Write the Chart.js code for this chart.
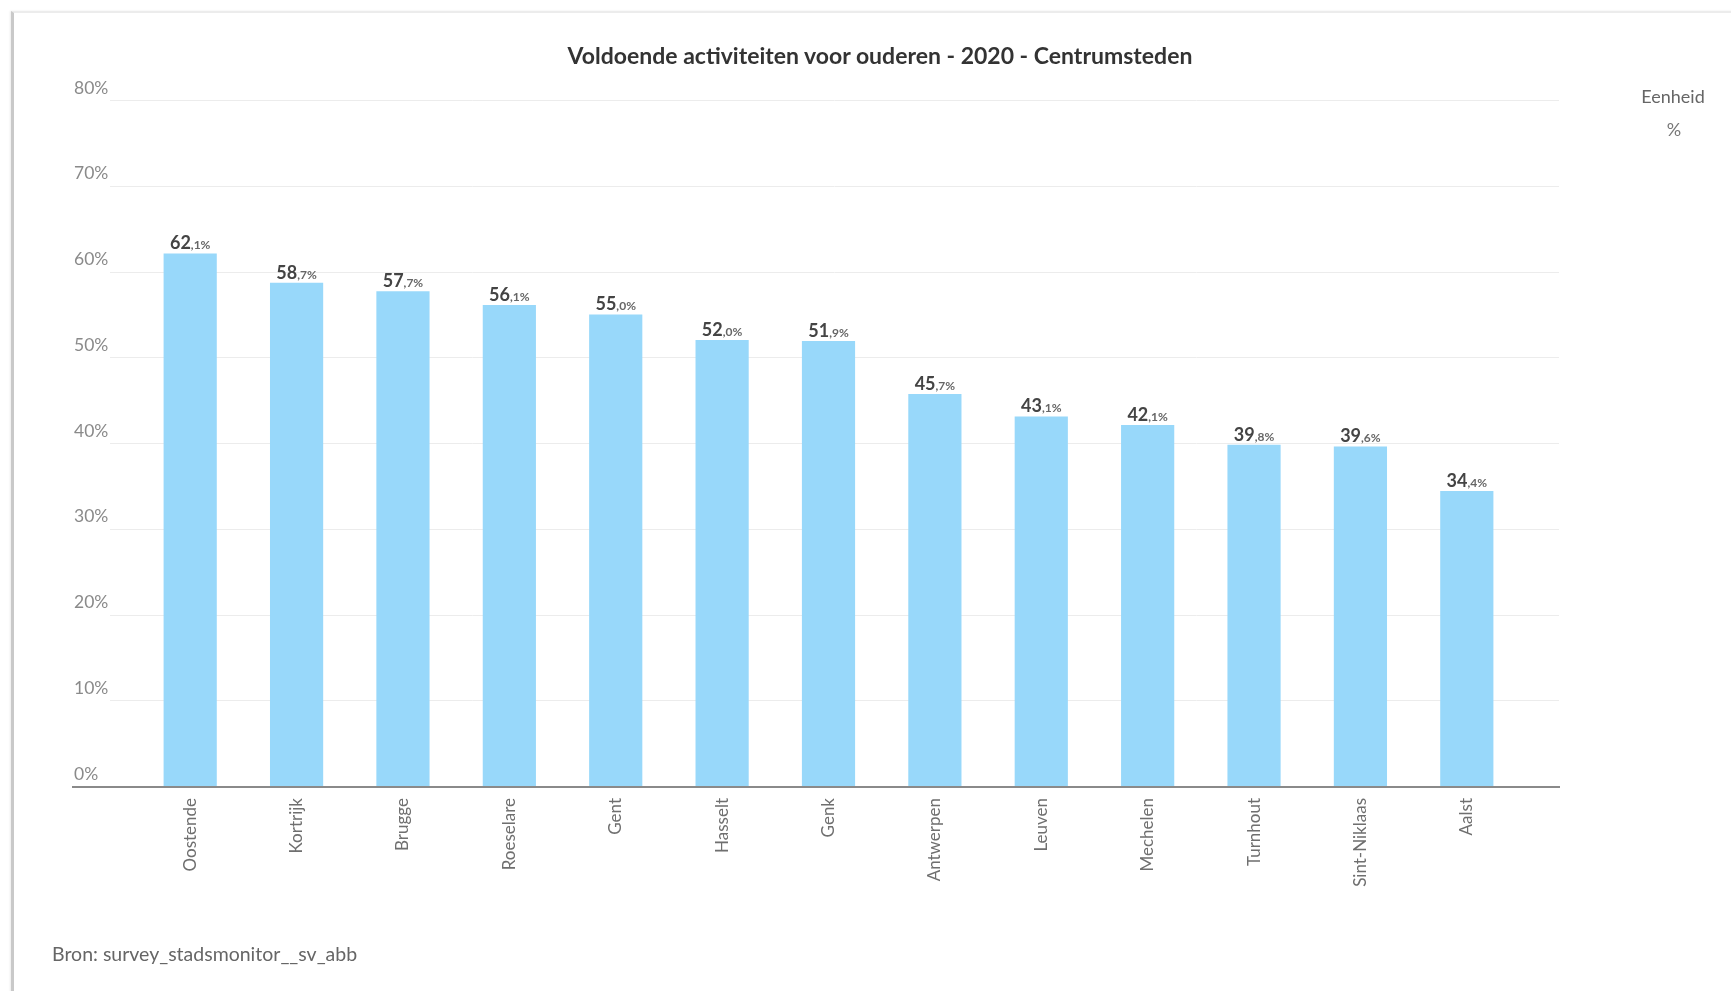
<!DOCTYPE html>
<html>
<head>
<meta charset="utf-8">
<script src="https://cdn.jsdelivr.net/npm/chart.js@4/dist/chart.umd.min.js"></script>
<style>
  html, body { margin: 0; padding: 0; background: #fff; width: 1731px; height: 991px; overflow: hidden; }
  #card { position: absolute; left: 11px; top: 11px; width: 1740px; height: 1000px;
          border-left: 3px solid #c9c9c9; border-top: 2px solid #ececec; box-sizing: border-box;
          box-shadow: -1px 0 2px rgba(0,0,0,0.08); }
  #wrap { position: absolute; left: 0; top: 0; width: 1731px; height: 991px; }
  .txt { position: absolute; font-family: Lato, "Open Sans", sans-serif; white-space: nowrap; }
  #title { left: 880px; top: 55px; transform: translate(-50%, -50%); font-weight: 700; font-size: 23px; color: #333; }
  #unit1 { left: 1673px; top: 96px; transform: translate(-50%, -50%); font-size: 18px; color: #666; }
  #unit2 { left: 1674px; top: 129px; transform: translate(-50%, -50%); font-size: 18px; color: #777; }
  #bron { left: 52px; top: 953px; transform: translate(0, -50%); font-size: 19.5px; color: #666; }
</style>
</head>
<body>
<div id="card"></div>
<div id="wrap"><canvas id="c" width="1731" height="991"></canvas></div>
<div class="txt" id="title">Voldoende activiteiten voor ouderen - 2020 - Centrumsteden</div>
<div class="txt" id="unit1">Eenheid</div>
<div class="txt" id="unit2">%</div>
<div class="txt" id="bron">Bron: survey_stadsmonitor__sv_abb</div>
<script>
const categories = ["Oostende", "Kortrijk", "Brugge", "Roeselare", "Gent", "Hasselt", "Genk",
  "Antwerpen", "Leuven", "Mechelen", "Turnhout", "Sint-Niklaas", "Aalst"];
const values = [62.1, 58.7, 57.7, 56.1, 55.0, 52.0, 51.9, 45.7, 43.1, 42.1, 39.8, 39.6, 34.4];
const yTicks = [0, 10, 20, 30, 40, 50, 60, 70, 80];

const FONT = 'Lato, "Open Sans", sans-serif';

const gridPlugin = {
  id: 'extGrid',
  beforeDatasetsDraw(chart) {
    const ctx = chart.ctx, y = chart.scales.y;
    ctx.save();
    yTicks.forEach(v => {
      if (v === 0) return;
      const py = Math.round(y.getPixelForValue(v)) + 0.5;
      ctx.strokeStyle = '#ececec';
      ctx.lineWidth = 1;
      ctx.beginPath(); ctx.moveTo(110, py); ctx.lineTo(1559, py); ctx.stroke();
    });
    ctx.restore();
  },
  afterDatasetsDraw(chart) {
    const ctx = chart.ctx, y = chart.scales.y;
    const py = y.getPixelForValue(0);
    ctx.save();
    ctx.strokeStyle = '#8a8a8a';
    ctx.lineWidth = 2;
    ctx.beginPath(); ctx.moveTo(72, py + 1); ctx.lineTo(1560, py + 1); ctx.stroke();
    // value labels
    const meta = chart.getDatasetMeta(0);
    meta.data.forEach((bar, i) => {
      const v = values[i];
      const parts = v.toFixed(1).split('.');
      const big = parts[0];
      const small = ',' + parts[1] + '%';
      ctx.font = '700 18px ' + FONT;
      const wb = ctx.measureText(big).width;
      ctx.font = '700 12px ' + FONT;
      const ws = ctx.measureText(small).width;
      const x0 = bar.x - (wb + ws) / 2;
      const by = bar.y - 4;
      ctx.textAlign = 'left';
      ctx.textBaseline = 'alphabetic';
      ctx.font = '700 18px ' + FONT;
      ctx.fillStyle = '#444';
      ctx.fillText(big, x0, by);
      ctx.font = '700 12px ' + FONT;
      ctx.fillStyle = '#666';
      ctx.fillText(small, x0 + wb, by);
    });
    ctx.restore();
  }
};

new Chart(document.getElementById('c'), {
  type: 'bar',
  data: {
    labels: categories,
    datasets: [{
      data: values,
      backgroundColor: '#98d8fa',
      borderWidth: 0,
      barPercentage: 0.5,
      categoryPercentage: 1.0
    }]
  },
  options: {
    responsive: false,
    animation: false,
    layout: { padding: { left: 74, right: 211, top: 100, bottom: 0 } },
    plugins: { legend: { display: false }, tooltip: { enabled: false }, title: { display: false } },
    scales: {
      x: {
        grid: { display: false, drawTicks: false },
        border: { display: false },
        ticks: {
          minRotation: 90, maxRotation: 90, autoSkip: false,
          padding: 12, color: '#6f6f6f',
          font: { family: FONT, size: 17 }
        },
        afterFit(s) { s.height = 205; }
      },
      y: {
        min: 0, max: 80,
        grid: { display: false, drawTicks: false },
        border: { display: false },
        afterBuildTicks(s) { s.ticks = yTicks.map(v => ({ value: v })); },
        ticks: {
          stepSize: 10,
          crossAlign: 'far',
          labelOffset: -12,
          padding: 0,
          color: '#8a8a8a',
          font: { family: FONT, size: 17.5 },
          callback: v => v + '%'
        },
        afterFit(s) { s.width = 63; }
      }
    }
  },
  plugins: [gridPlugin]
});
</script>
</body>
</html>
